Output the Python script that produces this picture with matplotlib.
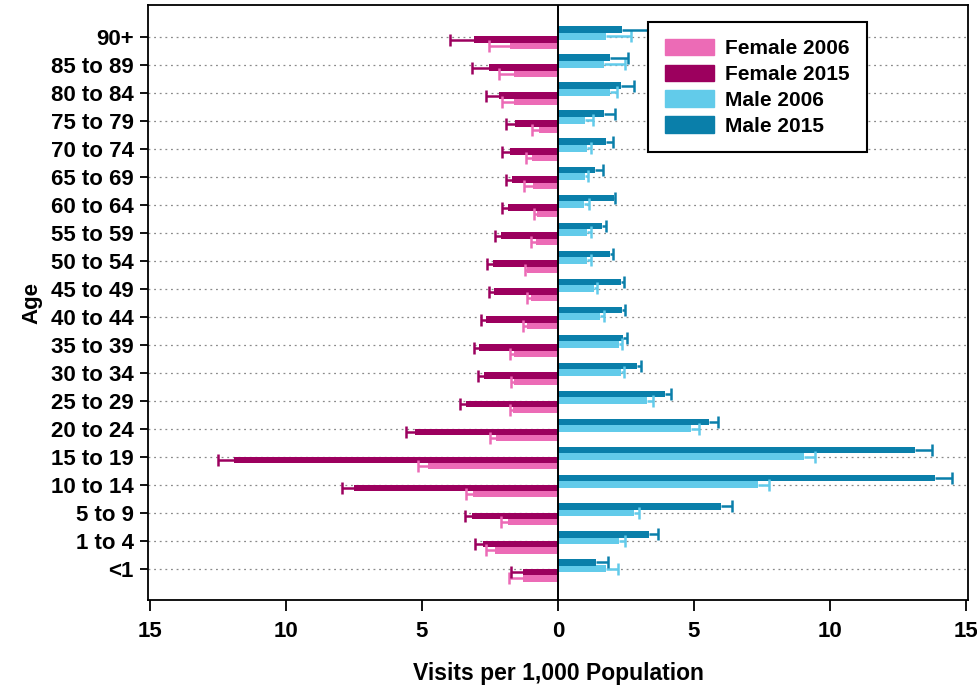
import matplotlib.pyplot as plt
from matplotlib.patches import Patch

plt.rcParams['font.family'] = ['Liberation Sans', 'DejaVu Sans']

# age groups, bottom to top
ages = ["<1", "1 to 4", "5 to 9", "10 to 14", "15 to 19", "20 to 24", "25 to 29",
        "30 to 34", "35 to 39", "40 to 44", "45 to 49", "50 to 54", "55 to 59",
        "60 to 64", "65 to 69", "70 to 74", "75 to 79", "80 to 84", "85 to 89", "90+"]

# visits per 1,000 population and upper confidence limits
female_2006 = [1.30, 2.32, 1.85, 3.14, 4.78, 2.28, 1.64, 1.61, 1.61, 1.12, 1.00, 1.12,
               0.80, 0.76, 0.93, 0.97, 0.70, 1.61, 1.61, 1.76]
female_2006_hi = [1.79, 2.65, 2.10, 3.38, 5.15, 2.49, 1.78, 1.73, 1.76, 1.27, 1.12, 1.21,
                  1.00, 0.88, 1.24, 1.18, 0.94, 2.04, 2.16, 2.53]
female_2015 = [1.30, 2.77, 3.16, 7.49, 11.89, 5.27, 3.38, 2.73, 2.89, 2.65, 2.34, 2.40,
               2.10, 1.85, 1.70, 1.76, 1.57, 2.18, 2.53, 3.09]
female_2015_hi = [1.71, 3.04, 3.42, 7.93, 12.48, 5.58, 3.60, 2.95, 3.10, 2.83, 2.53, 2.61,
                  2.32, 2.04, 1.92, 2.04, 1.92, 2.65, 3.16, 3.95]
male_2006 = [1.76, 2.24, 2.80, 7.34, 9.03, 4.89, 3.28, 2.30, 2.24, 1.56, 1.32, 1.08,
             1.08, 0.95, 1.01, 1.08, 1.01, 1.93, 1.69, 1.75]
male_2006_hi = [2.22, 2.46, 2.98, 7.74, 9.46, 5.20, 3.50, 2.44, 2.36, 1.69, 1.44, 1.23,
                1.22, 1.14, 1.12, 1.20, 1.30, 2.17, 2.48, 2.67]
male_2015 = [1.41, 3.33, 5.98, 13.87, 13.13, 5.57, 3.92, 2.91, 2.40, 2.36, 2.30, 1.93,
             1.63, 2.05, 1.38, 1.75, 1.69, 2.30, 1.91, 2.36]
male_2015_hi = [1.85, 3.66, 6.40, 14.49, 13.75, 5.88, 4.17, 3.07, 2.52, 2.48, 2.42, 2.03,
                1.75, 2.11, 1.66, 2.03, 2.08, 2.81, 2.56, 3.40]

c_f06 = "#EC6BB6"
c_f15 = "#9C005E"
c_m06 = "#62CBEA"
c_m15 = "#0A7FAA"

fig = plt.figure(figsize=(9.78, 6.9), dpi=100)
ax = fig.add_axes([0.151, 0.130, 0.839, 0.863])

y = list(range(len(ages)))
h = 0.24


def draw(vals, hi, offset, color, sign):
    pos = [v + offset for v in y]
    ax.barh(pos, [sign * v for v in vals], height=h, color=color, zorder=3)
    # one-sided error bar with a cap only at the outer end
    ax.hlines(pos, [sign * v for v in vals], [sign * b for b in hi],
              color=color, lw=1.8, zorder=4)
    ax.plot([sign * b for b in hi], pos, ls="none", marker="|", ms=9,
            mew=1.8, color=color, zorder=4)


for i in y:
    ax.axhline(i, color="#8a8a8a", lw=0.9, ls=(0, (1.5, 3)), zorder=1)

draw(female_2006, female_2006_hi, -0.32, c_f06, -1)
draw(female_2015, female_2015_hi, -0.10, c_f15, -1)
draw(male_2006, male_2006_hi, 0.02, c_m06, 1)
draw(male_2015, male_2015_hi, 0.25, c_m15, 1)

ax.axvline(0, color="black", lw=1.4, zorder=5)

ax.set_xlim(-15.08, 15.08)
ax.set_ylim(-1.11, 20.14)
ax.set_yticks(y)
ax.set_yticklabels(ages, fontsize=16, fontweight="bold")
ax.set_xticks([-15, -10, -5, 0, 5, 10, 15])
ax.set_xticklabels(["15", "10", "5", "0", "5", "10", "15"], fontsize=16, fontweight="bold")
ax.tick_params(axis="x", length=8, width=1.3, pad=7)
ax.tick_params(axis="y", length=6, width=1.3, pad=4)
for s in ax.spines.values():
    s.set_linewidth(1.3)

ax.set_ylabel("Age", fontsize=16, fontweight="bold", labelpad=6)
ax.set_xlabel("Visits per 1,000 Population", fontsize=16.5, fontweight="bold", labelpad=14)

handles = [Patch(color=c_f06), Patch(color=c_f15), Patch(color=c_m06), Patch(color=c_m15)]
leg = ax.legend(handles, ["Female 2006", "Female 2015", "Male 2006", "Male 2015"],
                loc="upper left", bbox_to_anchor=(0.610, 0.971), fancybox=False,
                framealpha=1, edgecolor="black", prop={"weight": "bold", "size": 15},
                handlelength=2.35, handleheight=0.85, labelspacing=0.3,
                borderpad=0.8, handletextpad=0.55, borderaxespad=0)
leg.get_frame().set_linewidth(1.5)
leg.set_zorder(10)

fig.savefig("out.png", dpi=100)
